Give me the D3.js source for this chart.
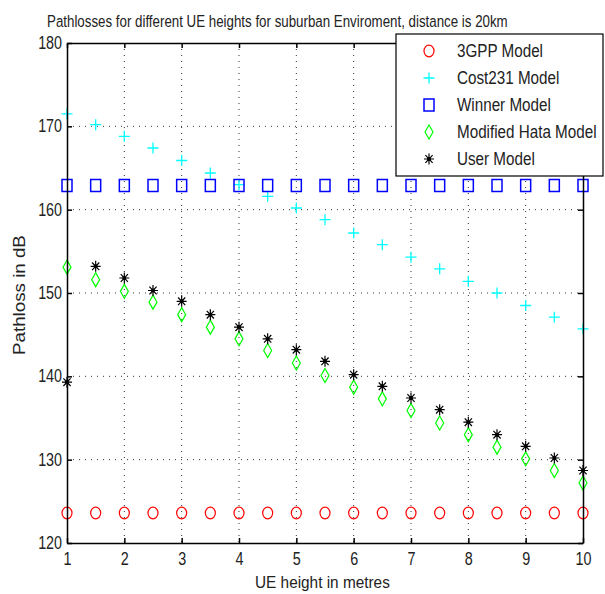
<!DOCTYPE html>
<html>
<head>
<meta charset="utf-8">
<script src="https://cdn.jsdelivr.net/npm/d3@7"></script>
<style>
  body { margin: 0; background: #fff; }
  svg { display: block; font-family: "Liberation Sans", Arial, sans-serif; }
</style>
</head>
<body>
<svg id="chart" width="605" height="594"></svg>
<script>
// UE heights (m)
const heights = [1, 1.5, 2, 2.5, 3, 3.5, 4, 4.5, 5, 5.5, 6, 6.5, 7, 7.5, 8, 8.5, 9, 9.5, 10];

const gpp3   = [123.6, 123.6, 123.6, 123.6, 123.6, 123.6, 123.6, 123.6, 123.6, 123.6, 123.6, 123.6, 123.6, 123.6, 123.6, 123.6, 123.6, 123.6, 123.6];
const cost231 = [171.5, 170.2, 168.8, 167.4, 165.9, 164.4, 163.0, 161.6, 160.2, 158.8, 157.2, 155.8, 154.3, 152.9, 151.4, 150.0, 148.5, 147.1, 145.7];
const winner = [162.9, 162.9, 162.9, 162.9, 162.9, 162.9, 162.9, 162.9, 162.9, 162.9, 162.9, 162.9, 162.9, 162.9, 162.9, 162.9, 162.9, 162.9, 162.9];
const hata   = [153.1, 151.6, 150.2, 148.9, 147.4, 145.9, 144.5, 143.1, 141.6, 140.1, 138.7, 137.3, 135.9, 134.4, 133.0, 131.5, 130.1, 128.7, 127.2];
const user   = [139.3, 153.2, 151.8, 150.3, 149.0, 147.4, 145.9, 144.5, 143.2, 141.8, 140.2, 138.8, 137.4, 136.0, 134.5, 133.0, 131.6, 130.2, 128.7];

const xTicks = [1, 2, 3, 4, 5, 6, 7, 8, 9, 10];
const yTicks = [120, 130, 140, 150, 160, 170, 180];

const series = [
  {name: "3GPP Model", values: gpp3, color: "#ff0000", marker: "circle"},
  {name: "Cost231 Model", values: cost231, color: "#00ffff", marker: "plus"},
  {name: "Winner Model", values: winner, color: "#0000ff", marker: "square"},
  {name: "Modified Hata Model", values: hata, color: "#00ff00", marker: "diamond"},
  {name: "User Model", values: user, color: "#000000", marker: "star"}
];

var margin = {top: 43, right: 22, bottom: 51, left: 67},
    width = 605 - margin.left - margin.right,
    height = 594 - margin.top - margin.bottom;

var svg = d3.select("#chart");
var g = svg.append("g")
   .attr("transform", "translate(" + margin.left + "," + margin.top + ")");

var x = d3.scaleLinear().domain([1, 10]).range([0, width]);
var y = d3.scaleLinear().domain([120, 180]).range([height, 0]);

// dotted grid
g.selectAll(".vgrid")
  .data(xTicks.slice(1, -1))
  .enter().append("line")
  .attr("x1", d => x(d)).attr("x2", d => x(d))
  .attr("y1", 0).attr("y2", height)
  .attr("stroke", "#333").attr("stroke-width", 1)
  .attr("stroke-dasharray", "1,5");
g.selectAll(".hgrid")
  .data(yTicks.slice(1, -1))
  .enter().append("line")
  .attr("x1", 0).attr("x2", width)
  .attr("y1", d => y(d)).attr("y2", d => y(d))
  .attr("stroke", "#333").attr("stroke-width", 1)
  .attr("stroke-dasharray", "1,5");

// marker shapes
function drawMarker(sel, type, color) {
  if (type === "circle") {
    sel.append("ellipse").attr("rx", 5).attr("ry", 5.8)
      .attr("fill", "none").attr("stroke", color).attr("stroke-width", 1.2);
  } else if (type === "plus") {
    sel.append("path").attr("d", "M-5.5,0H5.5M0,-5.5V5.5")
      .attr("stroke", color).attr("stroke-width", 1.3);
  } else if (type === "square") {
    sel.append("rect").attr("x", -5).attr("y", -6).attr("width", 10).attr("height", 12)
      .attr("fill", "none").attr("stroke", color).attr("stroke-width", 1.5);
  } else if (type === "diamond") {
    sel.append("path").attr("d", "M0,-7L4,0L0,7L-4,0Z")
      .attr("fill", "none").attr("stroke", color).attr("stroke-width", 1.2);
  } else if (type === "star") {
    sel.append("path").attr("d", "M-5,0H5M0,-5.5V5.5M-3.6,-3.8L3.6,3.8M-3.6,3.8L3.6,-3.8")
      .attr("stroke", color).attr("stroke-width", 1.2);
    sel.append("circle").attr("r", 2).attr("fill", color);
  }
}

series.forEach(s => {
  g.selectAll(null)
    .data(heights.map((h, i) => ({h: h, v: s.values[i]})))
    .enter().append("g")
    .attr("transform", d => "translate(" + x(d.h) + "," + y(d.v) + ")")
    .each(function() { drawMarker(d3.select(this), s.marker, s.color); });
});

// axes (drawn on top, ticks inward like matlab)
var xAxis = g.append("g")
  .attr("transform", "translate(0," + height + ")")
  .call(d3.axisBottom(x).tickValues(xTicks).tickSizeInner(-5).tickSizeOuter(0).tickFormat(d3.format("d")));
var yAxis = g.append("g")
  .call(d3.axisLeft(y).tickValues(yTicks).tickSizeInner(-5).tickSizeOuter(0).tickPadding(6).tickFormat(d3.format("d")));
g.append("g")
  .call(d3.axisTop(x).tickValues(xTicks).tickSizeInner(-5).tickSizeOuter(0).tickFormat(""));
g.append("g")
  .attr("transform", "translate(" + width + ",0)")
  .call(d3.axisRight(y).tickValues(yTicks).tickSizeInner(-5).tickSizeOuter(0).tickFormat(""));

g.selectAll(".domain").attr("stroke", "#000").attr("stroke-width", 1.5);
g.selectAll(".tick line").attr("stroke", "#000").attr("stroke-width", 1.5);
g.selectAll(".tick text").attr("font-size", 17.5).attr("fill", "#222")
  .attr("font-family", "Liberation Sans, Arial, sans-serif");
// narrow, tall glyphs as in the original raster
yAxis.selectAll(".tick text").attr("transform", "scale(0.82,1)");
xAxis.selectAll(".tick text").attr("y", 22).attr("dy", null).attr("transform", "scale(0.82,1)");

// fit a text into a given width by squeezing it horizontally
function squeezedText(x0, y0, str, size, w, rotate) {
  var holder = svg.append("g");
  var t = holder.append("text").text(str).attr("font-size", size).attr("fill", "#222");
  var natural = t.node().getComputedTextLength();
  var k = w / natural;
  holder.attr("transform", "translate(" + x0 + "," + y0 + ")" +
    (rotate ? " rotate(" + rotate + ")" : "") + " scale(" + k + ",1)");
  return t;
}

squeezedText(47, 27, "Pathlosses for different UE heights for suburban Enviroment, distance is 20km", 16.5, 461, 0);
squeezedText(255, 588, "UE height in metres", 17, 135, 0);
squeezedText(25, 355, "Pathloss in dB", 17, 120, -90);

// legend
var legend = svg.append("g").attr("transform", "translate(396,34)");
legend.append("rect")
  .attr("width", 207).attr("height", 142)
  .attr("fill", "#fff").attr("stroke", "#000").attr("stroke-width", 1.2);
var items = legend.selectAll(".item")
  .data(series)
  .enter().append("g")
  .attr("transform", (d, i) => "translate(0," + (17 + i * 27) + ")");
items.each(function(d) {
  var it = d3.select(this).append("g").attr("transform", "translate(33,0)");
  drawMarker(it, d.marker, d.color);
});
items.append("g")
  .attr("transform", "translate(61,0) scale(0.87,1)")
  .append("text")
  .text(d => d.name)
  .attr("x", 0).attr("y", 0).attr("dy", "0.36em")
  .attr("font-size", 17.5).attr("fill", "#222");
</script>
</body>
</html>
